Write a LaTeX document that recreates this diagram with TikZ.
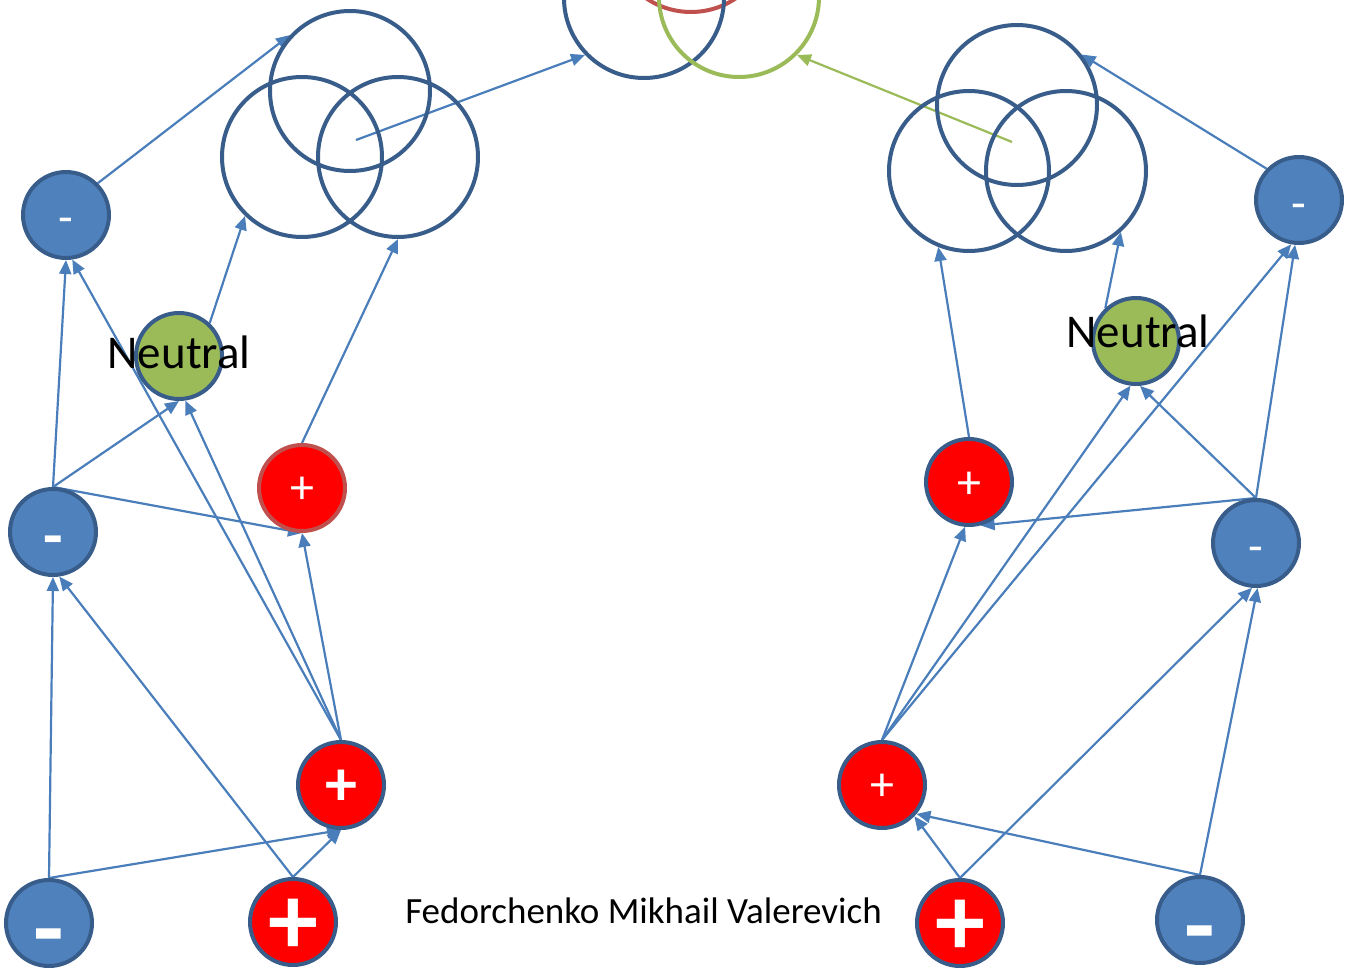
\documentclass[tikz,border=0pt]{standalone}
\usepackage{fontspec}
\setmainfont{Carlito}
\usetikzlibrary{arrows.meta,backgrounds}
\definecolor{nblue}{HTML}{4F81BD}
\definecolor{nborder}{HTML}{385D8A}
\definecolor{lblue}{HTML}{4A7EBB}
\definecolor{nred}{HTML}{FF0000}
\definecolor{rborder}{HTML}{C0504D}
\definecolor{ngreen}{HTML}{9BBB59}
\tikzset{
  ball/.style={circle,minimum size=86pt,inner sep=0pt,line width=4pt,draw=nborder},
  negball/.style={ball,fill=nblue},
  posball/.style={ball,fill=nred},
  neuball/.style={ball,fill=ngreen},
  ring/.style={circle,minimum size=160pt,inner sep=0pt,line width=4pt,draw=nborder},
  sign/.style={text=white,inner sep=0pt},
  smallsign/.style={sign,font=\fontsize{48}{48}\selectfont},
  midsign/.style={sign,font=\bfseries\fontsize{64}{64}\selectfont},
  bigsign/.style={sign,font=\bfseries\fontsize{100}{100}\selectfont},
  conn/.style={draw=lblue,line width=2.2pt,-{Triangle[length=14pt,width=12pt]}},
  gconn/.style={draw=ngreen,line width=2.2pt,-{Triangle[length=14pt,width=12pt]}},
  neutxt/.style={anchor=base,inner sep=0pt,font=\fontsize{47}{47}\selectfont},
}
\begin{document}
\begin{tikzpicture}[x=1pt,y=-1pt]
\useasboundingbox (0,0) rectangle (1353,968);
\clip (0,0) rectangle (1353,968);
% top rings
\node[ring,draw=rborder] (TR) at (691,-68) {};
\node[ring] (TB) at (644,-2) {};
\node[ring,draw=ngreen] (TG) at (739,-3) {};
% left triad
\node[ring] (LT) at (350,91) {};
\node[ring] (LL) at (302,157) {};
\node[ring] (LR) at (398,157) {};
\coordinate (LC) at (356,140);
% right triad
\node[ring] (RT) at (1017,105) {};
\node[ring] (RL) at (969,171) {};
\node[ring] (RR) at (1066,171) {};
\coordinate (RC) at (1012,142);
% left nodes
\node[negball] (L1) at (66,215) {};
\node[smallsign] at (66,226) {-};
\node[neuball] (Ln) at (179,356) {};
\node[neutxt] at (179,369) {Neutral};
\node[posball,draw=rborder] (Lp) at (302,488) {};
\node[smallsign] at (302,490) {+};
\node[negball] (L2) at (53,532) {};
\node[midsign] at (53,547) {-};
\node[posball] (L3) at (341,785) {};
\node[midsign] at (341,788) {+};
\node[negball] (LBm) at (49,923) {};
\node[bigsign] at (49,946) {-};
\node[posball] (LBp) at (293,922) {};
\node[bigsign] at (293,927) {+};
% right nodes
\node[negball] (RTm) at (1299,200) {};
\node[smallsign] at (1299,212) {-};
\node[neuball] (Rn) at (1136,341) {};
\node[neutxt] at (1138,348) {Neutral};
\node[posball] (Rp) at (969,482) {};
\node[smallsign] at (969,485) {+};
\node[negball] (R2) at (1256,543) {};
\node[smallsign] at (1256,555) {-};
\node[posball] (R3) at (882,785) {};
\node[smallsign] at (882,787) {+};
\node[posball] (RBp) at (960,923) {};
\node[bigsign] at (960,928) {+};
\node[negball] (RBm) at (1200,920) {};
\node[bigsign] at (1200,943) {-};
% caption
\node[anchor=base,inner sep=0pt,font=\fontsize{37}{37}\selectfont] (cap) at (643.5,923) {Fedorchenko Mikhail Valerevich};
\begin{scope}[on background layer]
% top connectors
\draw[conn] (LC) -- (TB.224);
\draw[gconn] (RC) -- (TG.-45);
% left connectors
\draw[conn] (L1.45) -- (LT.137);
\draw[conn] (Ln.47) -- (LL.226);
\draw[conn] (Lp.north) -- (LR.south);
\draw[conn] (L2.north) -- (L1.south);
\draw[conn] (L2.north) -- (Ln.south);
\draw[conn] (L2.north) -- (Lp.south);
\draw[conn] (L3.north) -- (L1.-82);
\draw[conn] (L3.north) -- (Ln.-82);
\draw[conn] (L3.north) -- (Lp.south);
\draw[conn] (LBm.north) -- (L2.south);
\draw[conn] (LBm.north) -- (L3.south);
\draw[conn] (LBp.north) -- (L2.-82);
\draw[conn] (LBp.north) -- (L3.south);
% right connectors
\draw[conn] (RTm.136) -- (RT.38);
\draw[conn] (Rn.133) -- (RR.-48);
\draw[conn] (Rp.north) -- (RL.248);
\draw[conn] (R2.north) -- (RTm.-95);
\draw[conn] (R2.north) -- (Rn.-85);
\draw[conn] (R2.north) -- (Rp.-75);
\draw[conn] (R3.north) -- (Rn.-97);
\draw[conn] (R3.north) -- (RTm.-100);
\draw[conn] (R3.north) -- (Rp.-95);
\draw[conn] (RBp.north) -- (R2.-95);
\draw[conn] (RBp.north) -- (R3.-44);
\draw[conn] (RBm.north) -- (R2.-88);
\draw[conn] (RBm.north) -- (R3.-40);
\end{scope}
\end{tikzpicture}
\end{document}
